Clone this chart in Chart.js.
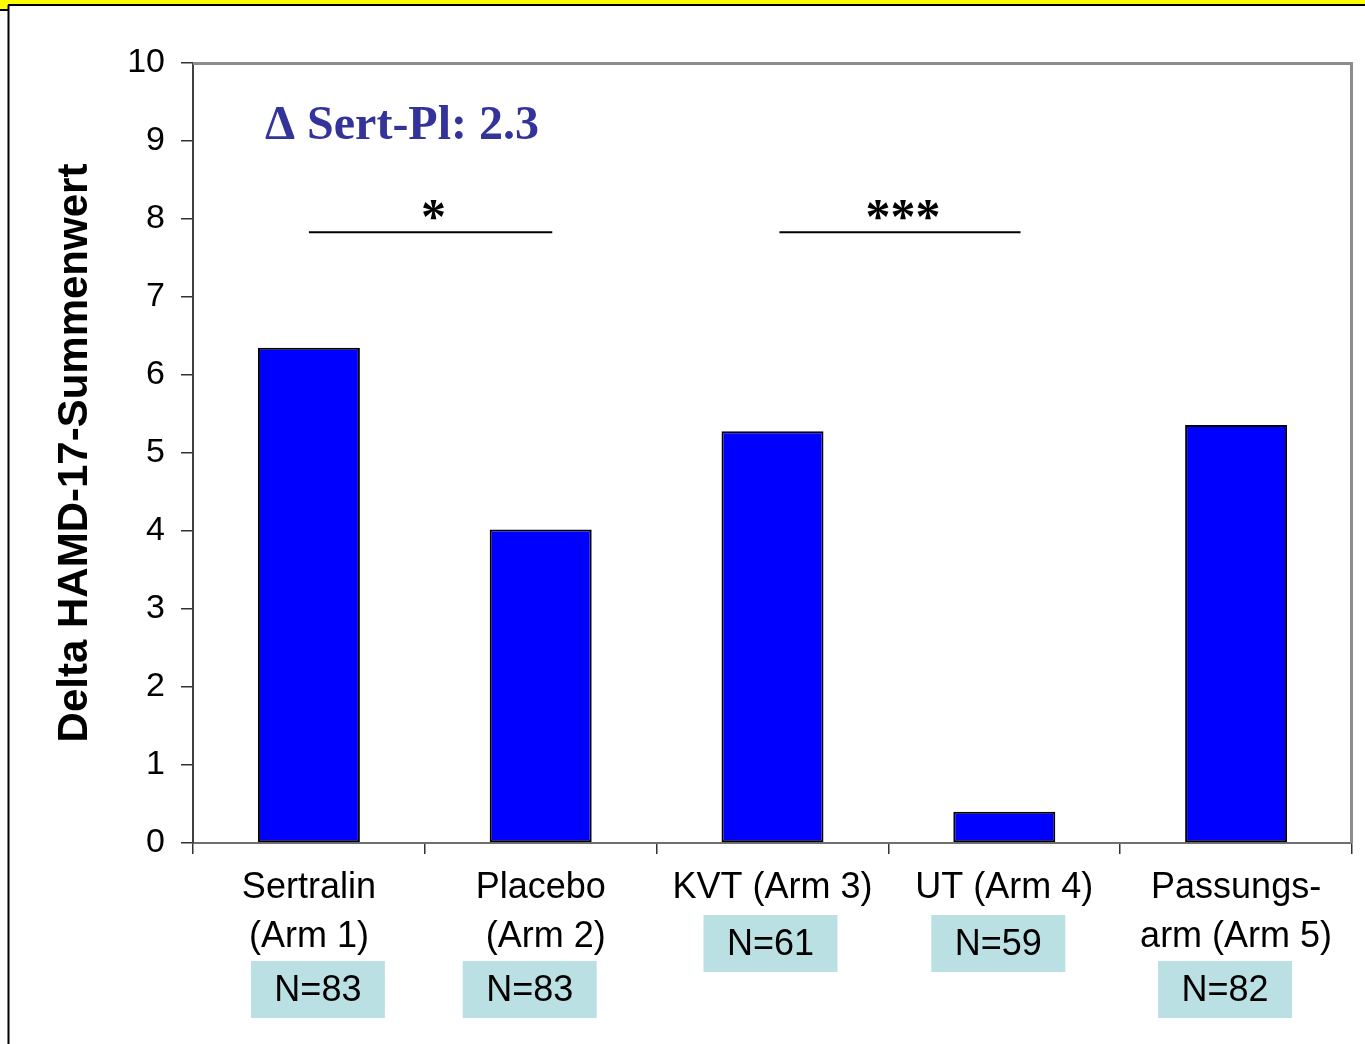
<!DOCTYPE html>
<html>
<head>
<meta charset="utf-8">
<script src="https://cdn.jsdelivr.net/npm/chart.js@4.4.1/dist/chart.umd.min.js"></script>
<style>
    html, body { margin: 0; padding: 0; background: #fff; }
    #wrap { width: 1365px; height: 1044px; position: relative; }
</style>
</head>
<body>
<div id="wrap"><canvas id="hamd-chart" width="1365" height="1044"></canvas></div>
<script>
    // Chart data
    var categories = [["Sertralin", "(Arm 1)"], ["Placebo", " (Arm 2)"], "KVT (Arm 3)", "UT (Arm 4)", ["Passungs-", "arm (Arm 5)"]];
    var deltaValues = [6.35, 4.02, 5.28, 0.40, 5.36];
    var sampleSizes = ["N=83", "N=83", "N=61", "N=59", "N=82"];
    var yTickValues = [0, 1, 2, 3, 4, 5, 6, 7, 8, 9, 10];

    // Significance brackets (category from -> to) and their marks
    var sigFrom = [0, 2];
    var sigTo = [1, 3];
    var sigMarks = ["*", "***"];
    var deltaText = "\u0394 Sert-Pl: 2.3";

    var SANS = "'Liberation Sans', Arial, sans-serif";
    var SERIF = "'Liberation Serif', 'Times New Roman', serif";

    // small horizontal shifts of the N boxes, as in the slide
    var boxShift = [9, -11, -2, -6, -11];


    // Page frame: yellow band on top, black line left
    var framePlugin = {
        id: "frame",
        beforeDraw: function (chart) {
            var c = chart.ctx;
            c.save();
            c.fillStyle = "#fff";
            c.fillRect(0, 0, chart.width, chart.height);
            c.fillStyle = "#FFFF00";
            c.fillRect(0, 0, chart.width, 4);
            c.fillRect(0, 0, 8, 10);
            c.strokeStyle = "#000";
            c.lineWidth = 2;
            c.beginPath();
            c.moveTo(8, 5); c.lineTo(chart.width, 5);
            c.moveTo(0, 10); c.lineTo(8, 10);
            c.moveTo(8.5, 5); c.lineTo(8.5, chart.height);
            c.stroke();
            c.restore();
        }
    };


    // Annotations: plot border, brackets, delta text, N boxes
    var annotatePlugin = {
        id: "annotate",
        afterDraw: function (chart) {
            var c = chart.ctx;
            var a = chart.chartArea;
            var xs = chart.scales.x;
            var ys = chart.scales.y;
            c.save();

            // gray top + right frame of the plot area
            c.strokeStyle = "#8c8c8c";
            c.lineWidth = 3;
            c.beginPath();
            c.moveTo(a.left, a.top + 0.5);
            c.lineTo(a.right - 0.5, a.top + 0.5);
            c.lineTo(a.right - 0.5, a.bottom);
            c.stroke();

            // significance brackets
            var lineY = ys.getPixelForValue(7.83);
            c.strokeStyle = "#000";
            c.lineWidth = 2;
            c.fillStyle = "#000";
            c.font = "bold 50px " + SERIF;
            c.textAlign = "center";
            c.textBaseline = "alphabetic";
            for (var i = 0; i < sigFrom.length; i++) {
                var x1 = xs.getPixelForValue(sigFrom[i] + 0.015 * sigFrom[i]);
                var x2 = xs.getPixelForValue(sigTo[i] + 0.05 + 0.01 * sigFrom[i]);
                c.beginPath();
                c.moveTo(x1, lineY);
                c.lineTo(x2, lineY);
                c.stroke();
                c.fillText(sigMarks[i], (x1 + x2) / 2 + 3, lineY + 1);
            }

            // delta annotation
            c.fillStyle = "#333399";
            c.font = "bold 48px " + SERIF;
            c.textAlign = "left";
            c.fillText(deltaText, a.left + 72, ys.getPixelForValue(9.02));

            // N boxes under the category labels
            c.font = "36px " + SANS;
            c.textAlign = "center";
            c.textBaseline = "middle";
            for (var j = 0; j < sampleSizes.length; j++) {
                var cx = xs.getPixelForValue(j) + boxShift[j];
                var lines = Array.isArray(categories[j]) ? categories[j].length : 1;
                var top = a.bottom + 72 + (lines - 1) * 46;
                c.fillStyle = "#BBE0E3";
                c.fillRect(cx - 67, top, 134, 57);
                c.fillStyle = "#000";
                c.fillText(sampleSizes[j], cx, top + 30);
            }
            c.restore();
        }
    };


    // Bar Chart
    var ctx1 = document.getElementById("hamd-chart").getContext("2d");
    var myChart1 = new Chart(ctx1, {
        type: "bar",
        data: {
            labels: categories,
            datasets: [{
                data: deltaValues,
                backgroundColor: "#0000FF",
                borderColor: "#000",
                borderWidth: 2,
                borderSkipped: false,
                barPercentage: 0.44,
                categoryPercentage: 1.0
            }]
        },
        options: {
            responsive: false,
            animation: false,
            layout: { padding: { top: 63, right: 13, left: 0, bottom: 0 } },
            plugins: {
                legend: { display: false },
                tooltip: { enabled: false }
            },
            scales: {
                x: {
                    grid: { drawOnChartArea: false, drawTicks: true, tickLength: 11, color: "#333", lineWidth: 1.5, offset: true },
                    border: { color: "#707070", width: 2 },
                    ticks: {
                        color: "#000",
                        padding: 10,
                        maxRotation: 0,
                        autoSkip: false,
                        font: { family: SANS, size: 36, lineHeight: 1.36 }
                    },
                    afterFit: function (scale) { scale.height = 1044 - 843; }
                },
                y: {
                    min: 0,
                    max: 10,
                    afterBuildTicks: function (scale) {
                        scale.ticks = yTickValues.map(function (v) { return { value: v }; });
                    },
                    grid: { drawOnChartArea: false, drawTicks: true, tickLength: 12, color: "#333", lineWidth: 1.5 },
                    border: { color: "#404040", width: 2 },
                    ticks: {
                        color: "#000",
                        padding: 16,
                        font: { family: SANS, size: 34 }
                    },
                    title: {
                        display: true,
                        text: "Delta HAMD-17-Summenwert",
                        color: "#000",
                        padding: { top: 50, bottom: 0 },
                        font: { family: SANS, size: 42, weight: "bold", lineHeight: 1.2 }
                    },
                    afterFit: function (scale) { scale.width = 193; }
                }
            }
        },
        plugins: [framePlugin, annotatePlugin]
    });
</script>
</body>
</html>
